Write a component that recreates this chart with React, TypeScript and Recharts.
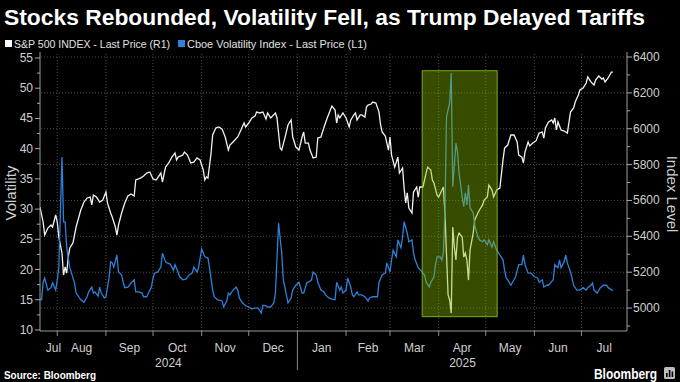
import React from 'react';
import { ComposedChart, Line, XAxis, YAxis, ReferenceArea, ReferenceLine } from 'recharts';

// x values are days counted from 2024-07-21 (day 0)
const spxDays = [
  0, 2, 3, 5, 7, 8, 10, 11, 12, 14,
  15, 16, 17, 18, 19, 21, 23, 26, 28, 30,
  32, 33, 34, 36, 38, 40, 42, 43, 45, 46,
  48, 49, 50, 52, 54, 56, 58, 60, 61, 64,
  66, 68, 70, 72, 74, 77, 78, 80, 82, 84,
  86, 87, 88, 91, 92, 94, 96, 98, 100, 102,
  104, 105, 106, 107, 109, 110, 112, 114, 116, 118,
  120, 121, 123, 126, 128, 130, 131, 133, 135, 137,
  138, 140, 142, 144, 145, 147, 150, 151, 153, 154,
  156, 158, 160, 161, 163, 165, 167, 168, 169, 171,
  172, 174, 176, 177, 179, 181, 183, 185, 186, 188,
  189, 190, 191, 193, 195, 197, 198, 200, 201, 202,
  204, 205, 207, 208, 209, 211, 212, 214, 216, 217,
  218, 220, 222, 223, 224, 226, 228, 229, 231, 232,
  233, 234, 235, 237, 238, 240, 241, 242, 244, 246,
  247, 249, 250, 251, 253, 254, 257, 258, 259, 260,
  261, 262, 263, 264, 265, 266, 267, 269, 270, 271,
  272, 273, 274, 276, 277, 279, 280, 282, 283, 285,
  286, 288, 289, 291, 293, 295, 296, 298, 300, 302,
  304, 305, 307, 308, 309, 311, 312, 314, 316, 318,
  320, 321, 322, 324, 326, 327, 328, 329, 330, 332,
  334, 336, 338, 340, 341, 343, 344, 346, 348, 349,
  351, 353, 354, 356, 358, 359, 360, 362, 364, 365,
];
const spxValues = [
  5563, 5480, 5407, 5446, 5463, 5452, 5519, 5480, 5396, 5307,
  5184, 5229, 5195, 5284, 5335, 5363, 5452, 5547, 5591, 5614,
  5619, 5575, 5630, 5619, 5591, 5602, 5647, 5586, 5530, 5508,
  5452, 5407, 5463, 5530, 5586, 5625, 5636, 5625, 5714, 5725,
  5736, 5753, 5759, 5720, 5714, 5753, 5703, 5786, 5809, 5842,
  5865, 5826, 5842, 5853, 5870, 5853, 5809, 5814, 5837, 5826,
  5770, 5714, 5731, 5725, 5865, 5965, 6004, 6010, 5998, 5954,
  5881, 5909, 5926, 5954, 5993, 6032, 6010, 6032, 6060, 6071,
  6093, 6088, 6093, 6054, 6088, 6060, 6088, 6060, 5892, 5881,
  5948, 6021, 6049, 5954, 5898, 5881, 5954, 5982, 5920, 5920,
  5881, 5837, 5842, 5948, 5954, 6010, 6060, 6104, 6127, 6104,
  6032, 6077, 6060, 6088, 6060, 6010, 6049, 6077, 6088, 6049,
  6077, 6077, 6065, 6121, 6132, 6138, 6149, 6143, 6093, 6021,
  5982, 5959, 5881, 5954, 5853, 5786, 5842, 5753, 5781, 5669,
  5586, 5642, 5558, 5530, 5647, 5675, 5619, 5675, 5675, 5753,
  5786, 5770, 5714, 5697, 5630, 5619, 5675, 5530, 5300, 5073,
  5045, 4972, 5452, 5340, 5268, 5396, 5418, 5396, 5284, 5307,
  5268, 5156, 5324, 5418, 5491, 5530, 5547, 5575, 5602, 5619,
  5686, 5658, 5619, 5658, 5669, 5826, 5892, 5909, 5965, 5965,
  5926, 5853, 5842, 5809, 5870, 5926, 5904, 5920, 5932, 5976,
  5982, 5948, 6004, 6038, 6049, 6032, 6060, 5993, 6038, 5993,
  5987, 5976, 6093, 6116, 6149, 6188, 6216, 6227, 6255, 6289,
  6261, 6244, 6272, 6294, 6277, 6283, 6261, 6283, 6316, 6316,
];

const vixDays = [
  0, 1, 2, 3, 5, 7, 8, 10, 11, 12,
  14, 15, 16, 17, 19, 22, 23, 26, 28, 30,
  31, 33, 34, 35, 37, 38, 39, 41, 42, 44,
  45, 46, 47, 49, 50, 52, 53, 54, 56, 58,
  60, 61, 63, 65, 66, 68, 70, 71, 72, 73,
  75, 77, 78, 80, 81, 83, 85, 86, 88, 89,
  91, 93, 95, 97, 98, 100, 101, 103, 105, 107,
  108, 110, 111, 113, 116, 117, 119, 120, 121, 123,
  125, 126, 127, 129, 131, 133, 135, 137, 139, 141,
  142, 144, 145, 147, 149, 150, 152, 154, 155, 156,
  158, 160, 161, 163, 165, 167, 168, 170, 171, 173,
  174, 176, 177, 179, 181, 182, 184, 186, 188, 189,
  191, 192, 193, 195, 196, 198, 199, 200, 202, 203,
  205, 207, 209, 210, 212, 215, 216, 218, 220, 221,
  223, 224, 225, 227, 228, 230, 231, 232, 234, 235,
  237, 238, 239, 241, 244, 245, 246, 248, 249, 251,
  252, 253, 255, 256, 257, 258, 259, 260, 261, 262,
  263, 265, 266, 267, 269, 270, 271, 272, 273, 274,
  276, 277, 279, 280, 282, 283, 285, 286, 288, 289,
  291, 293, 295, 296, 297, 298, 300, 302, 303, 305,
  307, 308, 309, 311, 313, 315, 317, 318, 320, 321,
  323, 324, 327, 328, 330, 331, 332, 334, 335, 336,
  338, 340, 342, 344, 346, 348, 349, 351, 352, 353,
  355, 357, 359, 361, 362, 365,
];
const vixValues = [
  15.1, 15.0, 17.9, 18.6, 16.6, 17.0, 17.8, 16.6, 18.3, 20.4,
  38.6, 27.9, 27.9, 23.7, 20.3, 17.8, 16.1, 15.0, 14.6, 15.5,
  16.3, 17.1, 16.1, 16.3, 15.6, 17.1, 16.1, 15.3, 15.5, 18.6,
  21.3, 21.1, 20.4, 22.4, 19.6, 19.1, 17.9, 17.0, 17.1, 17.8,
  18.3, 16.3, 16.3, 16.1, 15.5, 15.5, 16.6, 17.1, 18.6, 19.4,
  19.6, 20.4, 22.7, 21.3, 21.1, 20.9, 19.9, 20.8, 19.6, 18.8,
  18.3, 18.4, 19.1, 19.4, 20.4, 19.6, 20.3, 23.4, 22.1, 21.9,
  20.3, 16.6, 15.5, 15.0, 14.8, 13.8, 14.8, 16.1, 15.8, 16.6,
  17.1, 16.6, 15.3, 14.5, 14.0, 13.8, 13.5, 13.6, 13.6, 12.8,
  14.1, 14.0, 13.8, 13.8, 14.5, 16.1, 27.7, 22.7, 18.3, 17.1,
  14.5, 15.3, 16.6, 17.4, 17.9, 16.1, 16.1, 17.8, 17.9, 18.3,
  19.6, 19.1, 17.9, 16.6, 16.3, 15.8, 15.3, 15.1, 15.0, 17.9,
  16.6, 17.1, 16.1, 16.6, 18.6, 17.1, 15.8, 15.5, 16.3, 15.8,
  15.8, 15.5, 14.8, 15.3, 15.5, 15.5, 17.9, 19.1, 19.4, 21.1,
  19.6, 21.6, 23.2, 22.1, 24.9, 23.6, 25.4, 27.9, 26.0, 24.6,
  24.9, 22.7, 21.6, 20.3, 19.4, 19.1, 17.9, 17.1, 17.9, 18.8,
  20.8, 22.1, 22.1, 21.6, 22.7, 29.5, 45.2, 46.4, 47.6, 52.5,
  33.7, 40.9, 39.5, 36.0, 32.0, 30.4, 32.7, 30.7, 34.0, 30.2,
  29.4, 27.3, 25.4, 24.9, 24.6, 24.9, 24.1, 24.9, 23.7, 24.6,
  23.2, 22.4, 21.6, 19.9, 18.6, 18.3, 17.4, 18.3, 18.8, 20.8,
  20.8, 22.4, 20.8, 19.4, 19.4, 18.8, 18.6, 17.9, 18.3, 17.1,
  17.4, 17.4, 18.3, 20.8, 20.3, 21.6, 20.3, 21.3, 22.4, 21.1,
  19.6, 17.4, 16.6, 16.6, 17.0, 16.6, 17.0, 17.4, 17.8, 16.6,
  16.1, 17.0, 17.4, 17.4, 17.0, 16.5,
];

const monthLabels = ['Jul', 'Aug', 'Sep', 'Oct', 'Nov', 'Dec', 'Jan', 'Feb', 'Mar', 'Apr', 'May', 'Jun', 'Jul'];
const monthLabelDays = [8.6, 26.5, 57, 87.5, 118, 148.5, 179.5, 209, 238.5, 269, 299.5, 330, 359.5];
const monthStartDays = [11, 42, 72, 103, 133, 164, 195, 223, 254, 284, 315, 345];
const yearLabels = ['2024', '2025'];
const yearLabelDays = [81.8, 269.2];
const yearBoundaryDay = 164;

const vixTicks = [10, 12.5, 15, 17.5, 20, 22.5, 25, 27.5, 30, 32.5, 35, 37.5, 40, 42.5, 45, 47.5, 50, 52.5, 55];
const spxTicks = [4900, 5000, 5100, 5200, 5300, 5400, 5500, 5600, 5700, 5800, 5900, 6000, 6100, 6200, 6300, 6400];
const spxGrid = [5000, 5200, 5400, 5600, 5800, 6000, 6200, 6400];

const highlightDays = [243.5, 291.3];
const highlightVix = [12.2, 52.9];

const title = 'Stocks Rebounded, Volatility Fell, as Trump Delayed Tariffs';
const legendSpx = 'S&P 500 INDEX - Last Price (R1)';
const legendVix = 'Cboe Volatility Index - Last Price (L1)';

const FONT = '"Liberation Sans", Arial, sans-serif';
const BLUE = '#2f80d8';
const LABEL = '#cfcfcf';

const spxData = spxDays.map((d, i) => ({ day: d, spx: spxValues[i] }));
const vixData = vixDays.map((d, i) => ({ day: d, vix: vixValues[i] }));
const xTicks = Array.from(new Set([...monthStartDays, ...monthLabelDays, ...yearLabelDays])).sort((a, b) => a - b);

const XTick = (props: any) => {
  const { x, payload } = props;
  const v = payload.value;
  const mi = monthLabelDays.indexOf(v);
  if (mi >= 0) {
    return (
      <text x={x} y={352} textAnchor="middle" fill={LABEL} fontSize={12} fontFamily={FONT}>
        {monthLabels[mi]}
      </text>
    );
  }
  const yi = yearLabelDays.indexOf(v);
  if (yi >= 0) {
    return (
      <text x={x} y={367} textAnchor="middle" fill={LABEL} fontSize={12} fontFamily={FONT}>
        {yearLabels[yi]}
      </text>
    );
  }
  if (v === yearBoundaryDay) {
    return <line x1={x} x2={x} y1={331} y2={370} stroke="#8a8a8a" strokeWidth={1} />;
  }
  return <line x1={x} x2={x} y1={331} y2={336} stroke="#8a8a8a" strokeWidth={1} />;
};

const LeftTick = (props: any) => {
  const { y, payload } = props;
  const v = payload.value;
  const major = v % 5 === 0;
  return (
    <g>
      <line x1={major ? 35 : 37} x2={40} y1={y} y2={y} stroke="#aaaaaa" strokeWidth={1} />
      {major && (
        <text x={33} y={y + 4} textAnchor="end" fill={LABEL} fontSize={12} fontFamily={FONT}>
          {v}
        </text>
      )}
    </g>
  );
};

const RightTick = (props: any) => {
  const { y, payload } = props;
  const v = payload.value;
  const major = v % 200 === 0;
  return (
    <g>
      <line x1={627} x2={major ? 632 : 630} y1={y} y2={y} stroke="#aaaaaa" strokeWidth={1} />
      {major && (
        <text x={633} y={y + 4} textAnchor="start" fill={LABEL} fontSize={12} fontFamily={FONT}>
          {v}
        </text>
      )}
    </g>
  );
};

export default function App() {
  return (
    <div style={{ position: 'absolute', left: 0, top: 0, width: 680, height: 382, background: '#000', overflow: 'hidden' }}>
      <ComposedChart width={680} height={382} margin={{ top: 52, right: 0, bottom: 21, left: 0 }}>
        <XAxis
          xAxisId="x"
          type="number"
          dataKey="day"
          domain={[0, 374]}
          allowDataOverflow
          ticks={xTicks}
          interval={0}
          tick={XTick}
          tickLine={false}
          axisLine={{ stroke: '#9a9a9a' }}
          height={30}
        />
        <YAxis
          yAxisId="left"
          orientation="left"
          type="number"
          domain={[9.83, 55.99]}
          allowDataOverflow
          ticks={vixTicks}
          interval={0}
          tick={LeftTick}
          tickLine={false}
          axisLine={{ stroke: '#9a9a9a' }}
          width={40}
        />
        <YAxis
          yAxisId="right"
          orientation="right"
          type="number"
          domain={[4872, 6428]}
          allowDataOverflow
          ticks={spxTicks}
          interval={0}
          tick={RightTick}
          tickLine={false}
          axisLine={{ stroke: '#9a9a9a' }}
          width={53}
        />
        {spxGrid.map((v) => (
          <ReferenceLine key={'h' + v} xAxisId="x" yAxisId="right" y={v} stroke="#4d4d4d" strokeDasharray="1 2" />
        ))}
        {monthStartDays.map((d) => (
          <ReferenceLine key={'v' + d} xAxisId="x" yAxisId="left" x={d} stroke="#4d4d4d" strokeDasharray="1 2" />
        ))}
        <Line
          xAxisId="x"
          yAxisId="right"
          data={spxData}
          dataKey="spx"
          stroke="#f2f2f2"
          strokeWidth={1.3}
          dot={false}
          isAnimationActive={false}
        />
        <Line
          xAxisId="x"
          yAxisId="left"
          data={vixData}
          dataKey="vix"
          stroke={BLUE}
          strokeWidth={1.3}
          dot={false}
          isAnimationActive={false}
        />
        <ReferenceArea
          {...({ zIndex: 1500 } as any)}
          xAxisId="x"
          yAxisId="left"
          x1={highlightDays[0]}
          x2={highlightDays[1]}
          y1={highlightVix[0]}
          y2={highlightVix[1]}
          fill="#8cbe00"
          fillOpacity={0.4}
          stroke="#9cc820"
          strokeOpacity={0.8}
        />
      </ComposedChart>
      <svg width={680} height={382} style={{ position: 'absolute', left: 0, top: 0, pointerEvents: 'none' }}>
        <text x={4} y={25} fill="#ffffff" fontSize={22} fontWeight="bold" fontFamily={FONT} textLength={641} lengthAdjust="spacingAndGlyphs">
          {title}
        </text>
        <rect x={5} y={40} width={7} height={7} fill="#ffffff" />
        <text x={14} y={47.5} fill="#e0e0e0" fontSize={11} fontFamily={FONT} textLength={156} lengthAdjust="spacingAndGlyphs">
          {legendSpx}
        </text>
        <rect x={178} y={40} width={7} height={7} fill={BLUE} />
        <text x={187} y={47.5} fill="#e0e0e0" fontSize={11} fontFamily={FONT} textLength={180} lengthAdjust="spacingAndGlyphs">
          {legendVix}
        </text>
        <text x={12} y={193} fill={LABEL} fontSize={15} fontFamily={FONT} textAnchor="middle" transform="rotate(-90 12 193)" dominantBaseline="middle">
          Volatility
        </text>
        <text x={671} y={194} fill={LABEL} fontSize={15} fontFamily={FONT} textAnchor="middle" transform="rotate(90 671 194)" dominantBaseline="middle">
          Index Level
        </text>
        <text x={4} y={379} fill="#ffffff" fontSize={11} fontWeight="bold" fontFamily={FONT} textLength={92} lengthAdjust="spacingAndGlyphs">
          Source: Bloomberg
        </text>
        <text x={594} y={379} fill="#ffffff" fontSize={15} fontWeight="bold" fontFamily={FONT} textLength={63} lengthAdjust="spacingAndGlyphs">
          Bloomberg
        </text>
        <rect x={664} y={367} width={11} height={12} rx={1.5} fill="#bdbdbd" />
        <rect x={666} y={373} width={1.6} height={4} fill="#000" />
        <rect x={668.8} y={370} width={1.6} height={7} fill="#000" />
        <rect x={671.6} y={371.5} width={1.6} height={5.5} fill="#000" />
      </svg>
    </div>
  );
}
